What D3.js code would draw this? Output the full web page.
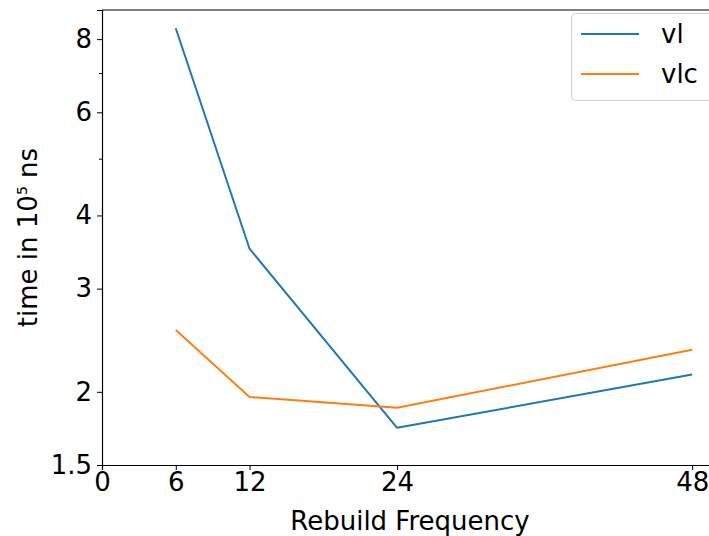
<!DOCTYPE html>
<html><head><meta charset="utf-8">
<script src="https://cdn.jsdelivr.net/npm/d3@7"></script>
<style>body{margin:0;background:#fff}svg{display:block}text{font-family:"DejaVu Sans",sans-serif;fill:#000}</style>
</head><body>
<script>
const frequencies = [6, 12, 24, 48];
const vlValues = [8.35, 3.51, 1.736, 2.14];
const vlcValues = [2.55, 1.96, 1.878, 2.36];
const seriesNames = ["vl", "vlc"];
const seriesColors = ["#1f77b4", "#ff7f0e"];
const xTicks = [0, 6, 12, 24, 48];
const yTicks = [1.5, 2, 3, 4, 6, 8];
const yMinorTicks = [5, 7];

const W = 709, H = 536;
const L = 102, T = 10, B = 465, R = 718;
const svg = d3.select("body").append("svg").attr("width", W).attr("height", H);

const x = d3.scaleLinear().domain([0, 50.1]).range([L, R]);
const y = d3.scaleLog().domain([1.5, 8.97]).range([B, T]);

const fs = 26;
// axes
const xAxis = svg.append("g").attr("transform", `translate(0,${B})`)
  .call(d3.axisBottom(x).tickValues(xTicks).tickFormat(d3.format("d")).tickSizeOuter(0).tickSize(5).tickPadding(3));
const yAxis = svg.append("g").attr("transform", `translate(${L},0)`)
  .call(d3.axisLeft(y).tickValues(yTicks).tickFormat(d => String(d)).tickSizeOuter(0).tickSize(5).tickPadding(5));
svg.append("g").attr("transform", `translate(${L},0)`)
  .call(d3.axisLeft(y).tickValues(yMinorTicks).tickFormat("").tickSizeOuter(0).tickSize(3))
  .select(".domain").remove();
[xAxis, yAxis].forEach(g => {
  g.selectAll("text").style("font-size", fs + "px").style("font-family", "DejaVu Sans");
  g.selectAll("line").attr("stroke", "#000").attr("stroke-width", 1);
  g.select(".domain").attr("stroke", "#000").attr("stroke-width", 1.2);
});
// top and right spines
svg.append("line").attr("x1", L).attr("x2", R).attr("y1", T).attr("y2", T).attr("stroke", "#000").attr("stroke-width", 1.2);
svg.append("line").attr("x1", R).attr("x2", R).attr("y1", T).attr("y2", B).attr("stroke", "#000").attr("stroke-width", 1.2);

// lines
const line = d3.line().x((d, i) => x(frequencies[i])).y(d => y(d));
[vlValues, vlcValues].forEach((vals, k) => {
  svg.append("path").datum(vals).attr("d", line).attr("fill", "none")
    .attr("stroke", seriesColors[k]).attr("stroke-width", 2).attr("stroke-linejoin", "round");
});

// labels
svg.append("text").attr("x", (L + R) / 2).attr("y", 530).attr("text-anchor", "middle")
  .style("font-size", fs + "px").text("Rebuild Frequency");
const yl = svg.append("text").attr("transform", `translate(37,${(T + B) / 2}) rotate(-90)`)
  .attr("text-anchor", "middle").style("font-size", fs + "px");
yl.append("tspan").text("time in 10");
yl.append("tspan").attr("dy", -10).style("font-size", "14px").text("5");
yl.append("tspan").attr("dy", 10).text(" ns");

// legend
const lg = svg.append("g");
lg.append("rect").attr("x", 571.5).attr("y", 13.5).attr("width", 160).attr("height", 87).attr("rx", 4)
  .attr("fill", "#fff").attr("fill-opacity", 0.8).attr("stroke", "#d0d0d0").attr("stroke-width", 1);
seriesNames.forEach((n, i) => {
  const yy = 34 + i * 40;
  lg.append("line").attr("x1", 581).attr("x2", 639).attr("y1", yy).attr("y2", yy)
    .attr("stroke", seriesColors[i]).attr("stroke-width", 2);
  lg.append("text").attr("x", 661).attr("y", yy + 9).style("font-size", fs + "px").text(n);
});
</script>
</body></html>
